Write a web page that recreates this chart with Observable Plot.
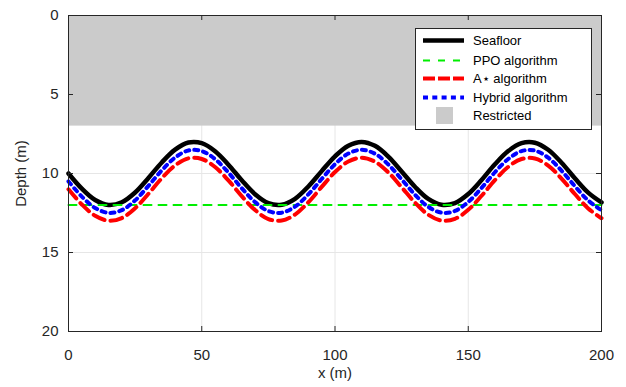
<!DOCTYPE html>
<html>
<head>
<meta charset="utf-8">
<script src="https://cdn.jsdelivr.net/npm/d3@7"></script>
<script src="https://cdn.jsdelivr.net/npm/@observablehq/plot@0.6"></script>
<style>
  html, body { margin: 0; padding: 0; background: #fff; }
  svg { font-family: "Liberation Sans", Arial, sans-serif; }
</style>
</head>
<body>
<div id="chart"></div>
<script>
// ---- Data ----
const xs = [0,5,10,15,20,25,30,35,40,45,50,55,60,65,70,75,80,85,90,95,100,
            105,110,115,120,125,130,135,140,145,150,155,160,165,170,175,180,185,190,195,200];
const seafloor = [10.0,10.96,11.68,11.99,11.82,11.2,10.28,9.3,8.49,8.04,8.08,8.59,9.44,10.43,11.31,11.88,11.98,11.6,10.82,9.85,8.91,
                  8.24,8.0,8.25,8.93,9.87,10.84,11.61,11.98,11.87,11.3,10.41,9.42,8.58,8.08,8.05,8.5,9.32,10.3,11.21,11.83];
const hybrid = [10.5,11.46,12.18,12.49,12.32,11.7,10.78,9.8,8.99,8.54,8.58,9.09,9.94,10.93,11.81,12.38,12.48,12.1,11.32,10.35,9.41,
                8.74,8.5,8.75,9.43,10.37,11.34,12.11,12.48,12.37,11.8,10.91,9.92,9.08,8.58,8.55,9.0,9.82,10.8,11.71,12.33];
const aStar = [11.0,11.96,12.68,12.99,12.82,12.2,11.28,10.3,9.49,9.04,9.08,9.59,10.44,11.43,12.31,12.88,12.98,12.6,11.82,10.85,9.91,
               9.24,9.0,9.25,9.93,10.87,11.84,12.61,12.98,12.87,12.3,11.41,10.42,9.58,9.08,9.05,9.5,10.32,11.3,12.21,12.83];
const ppoX = [0, 200];
const ppoDepth = [12, 12];
const restricted = [{x1: 0, x2: 200, y1: 0, y2: 7}];
const xTicks = [0, 50, 100, 150, 200];
const yTicks = [0, 5, 10, 15, 20];
const seriesNames = ["Seafloor", "PPO algorithm", "A\u22c6 algorithm", "Hybrid algorithm", "Restricted"];

const toRows = (ys) => xs.map((x, i) => ({x, y: ys[i]}));
const ppoRows = ppoX.map((x, i) => ({x, y: ppoDepth[i]}));

const W = 626, H = 387, mT = 15, mR = 25, mB = 56, mL = 68;
const innerW = W - mL - mR, innerH = H - mT - mB, tick = 5;
const axisColor = "#262626";
const gridColor = "#e6e6e6";

const plot = Plot.plot({
  width: W,
  height: H,
  marginTop: mT,
  marginRight: mR,
  marginBottom: mB,
  marginLeft: mL,
  style: {fontSize: "15px", fontFamily: "Liberation Sans, Arial, sans-serif", color: axisColor, background: "#fff"},
  x: {domain: [0, 200]},
  y: {domain: [0, 20], reverse: true},
  marks: [
    Plot.gridX(xTicks, {stroke: gridColor, strokeOpacity: 1}),
    Plot.gridY(yTicks, {stroke: gridColor, strokeOpacity: 1}),
    Plot.rect(restricted, {x1: "x1", x2: "x2", y1: "y1", y2: "y2", fill: "#cbcbcb"}),
    Plot.line(toRows(seafloor), {x: "x", y: "y", stroke: "#000", strokeWidth: 4.5, curve: "catmull-rom"}),
    Plot.line(ppoRows, {x: "x", y: "y", stroke: "#00ee00", strokeWidth: 2, strokeDasharray: "8,7"}),
    Plot.line(toRows(aStar), {x: "x", y: "y", stroke: "#ff0000", strokeWidth: 4, strokeDasharray: "12,6", curve: "catmull-rom"}),
    Plot.line(toRows(hybrid), {x: "x", y: "y", stroke: "#0000ff", strokeWidth: 4, strokeDasharray: "4,5", curve: "catmull-rom"}),
    Plot.frame({stroke: axisColor, strokeWidth: 1}),
    // inward tick marks on all four sides
    Plot.tickX(xTicks, {x: d => d, stroke: axisColor, insetTop: innerH - tick}),
    Plot.tickX(xTicks, {x: d => d, stroke: axisColor, insetBottom: innerH - tick}),
    Plot.tickY(yTicks, {y: d => d, stroke: axisColor, insetRight: innerW - tick}),
    Plot.tickY(yTicks, {y: d => d, stroke: axisColor, insetLeft: innerW - tick}),
    // labels
    Plot.axisX(xTicks, {anchor: "bottom", tickSize: 0, tickPadding: 18, label: "x (m)", labelAnchor: "center", labelArrow: "none", labelOffset: 46, color: axisColor}),
    Plot.axisY(yTicks, {anchor: "left", tickSize: 0, tickPadding: 10, label: "Depth (m)", labelAnchor: "center", labelArrow: "none", labelOffset: 53, color: axisColor})
  ]
});
document.getElementById("chart").appendChild(plot);

// ---- Legend (inside the plot, top right) ----
const svg = d3.select(plot);
const lg = svg.append("g").attr("transform", "translate(415,28)").attr("text-anchor", "start");
lg.append("rect").attr("x", 0.5).attr("y", 0.5).attr("width", 176).attr("height", 101)
  .attr("fill", "#fff").attr("stroke", axisColor).attr("stroke-width", 1);
const styles = [
  {stroke: "#000", w: 4.5, dash: null},
  {stroke: "#00ee00", w: 2, dash: "7,8"},
  {stroke: "#ff0000", w: 4, dash: "12,3"},
  {stroke: "#0000ff", w: 4, dash: "5,4.3"},
  {fill: "#cbcbcb"}
];
const rowY = [12.5, 32.5, 50.5, 69.5, 87.5];
seriesNames.forEach((name, i) => {
  const s = styles[i];
  if (s.fill) {
    lg.append("rect").attr("x", 21).attr("y", rowY[i] - 8.5).attr("width", 17).attr("height", 17).attr("fill", s.fill);
  } else {
    lg.append("line").attr("x1", 8).attr("x2", 49).attr("y1", rowY[i]).attr("y2", rowY[i])
      .attr("stroke", s.stroke).attr("stroke-width", s.w).attr("stroke-dasharray", s.dash);
  }
  lg.append("text").attr("x", 58).attr("y", rowY[i]).attr("dy", "0.35em")
    .attr("text-anchor", "start").attr("font-size", 13).attr("fill", "#000").text(name);
});
</script>
</body>
</html>
